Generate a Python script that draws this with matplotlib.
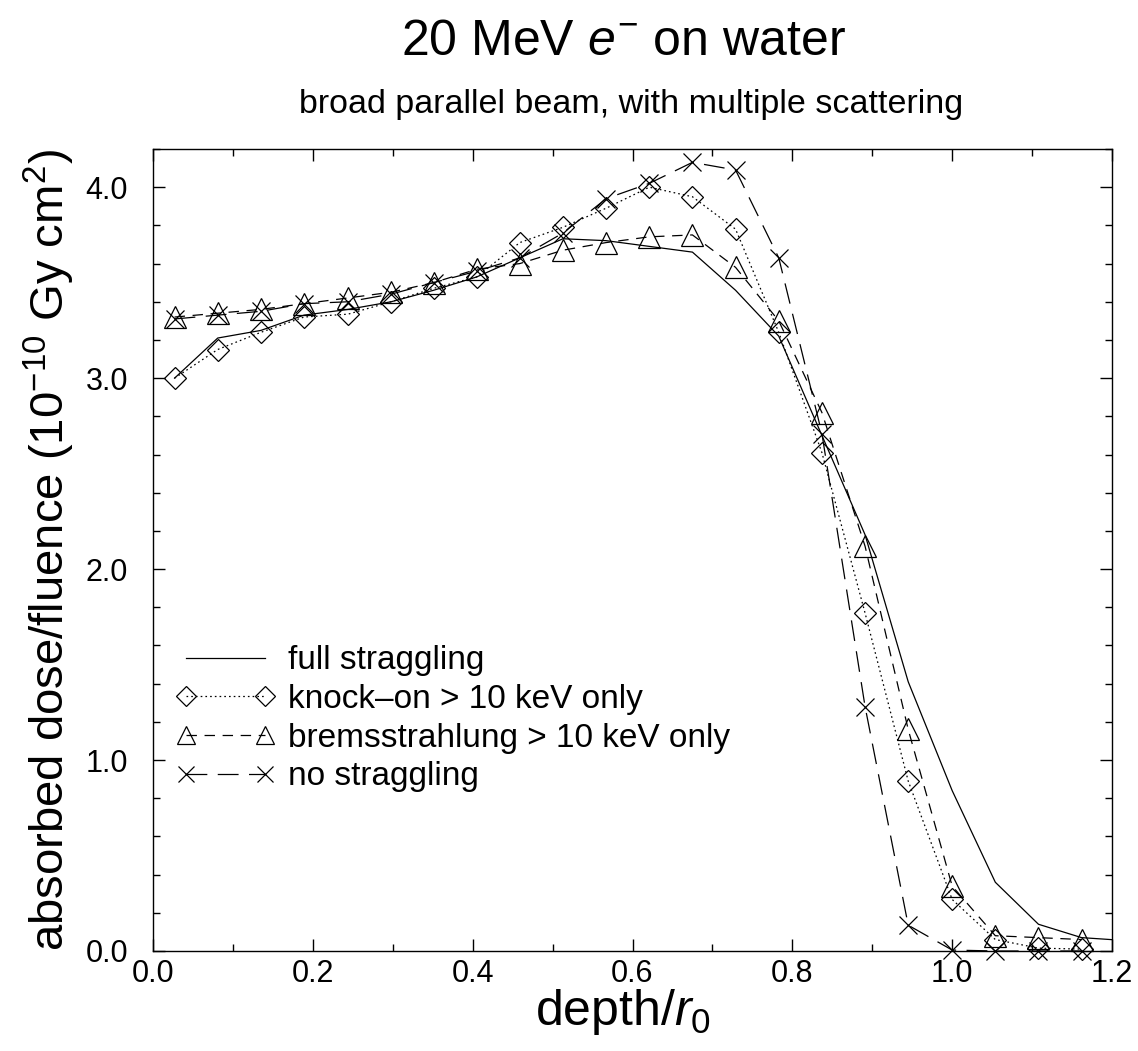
import matplotlib
matplotlib.use("Agg")
import matplotlib.pyplot as plt
from matplotlib.ticker import MultipleLocator, FormatStrFormatter

plt.rcParams['font.family'] = ['Liberation Sans', 'DejaVu Sans']
plt.rcParams['mathtext.fontset'] = 'custom'
plt.rcParams['mathtext.rm'] = 'Liberation Sans'
plt.rcParams['mathtext.it'] = 'Liberation Sans:italic'
plt.rcParams['mathtext.bf'] = 'Liberation Sans:bold'
plt.rcParams['lines.scale_dashes'] = False

# ---- data ----
depth = [0.027, 0.081, 0.135, 0.189, 0.244, 0.298, 0.351, 0.405, 0.459, 0.513,
         0.567, 0.621, 0.675, 0.729, 0.783, 0.837, 0.891, 0.945, 1.000, 1.054,
         1.108, 1.162]
depth_full = depth + [1.216]

full_straggling = [3.00, 3.21, 3.25, 3.33, 3.36, 3.40, 3.46, 3.53, 3.63, 3.73,
                   3.72, 3.69, 3.66, 3.46, 3.22, 2.70, 2.18, 1.41, 0.84, 0.36,
                   0.14, 0.07, 0.055]
knock_on = [3.00, 3.15, 3.24, 3.32, 3.335, 3.40, 3.47, 3.53, 3.71, 3.79,
            3.89, 4.00, 3.95, 3.78, 3.24, 2.61, 1.77, 0.89, 0.27, 0.06,
            0.015, 0.01]
bremsstrahlung = [3.32, 3.34, 3.36, 3.39, 3.42, 3.45, 3.50, 3.57, 3.60, 3.67,
                  3.71, 3.74, 3.75, 3.58, 3.30, 2.82, 2.12, 1.16, 0.34, 0.08,
                  0.07, 0.06]
no_straggling = [3.31, 3.33, 3.35, 3.39, 3.40, 3.44, 3.50, 3.56, 3.63, 3.76,
                 3.94, 4.02, 4.13, 4.09, 3.63, 2.71, 1.28, 0.135, 0.005, 0.0,
                 0.0, 0.0]

labels = ['full straggling', 'knock\u2013on > 10 keV only',
          'bremsstrahlung > 10 keV only', 'no straggling']

x_ticks = [0.0, 0.2, 0.4, 0.6, 0.8, 1.0, 1.2]
y_ticks = [0.0, 1.0, 2.0, 3.0, 4.0]

# ---- figure ----
fig = plt.figure(figsize=(11.38, 10.51), dpi=100)
ax = fig.add_axes([153/1138, 1-951/1051, (1112-153)/1138, (951-149)/1051])

lw = 0.9
ax.plot(depth_full, full_straggling, color='black', lw=lw, linestyle='-',
        label=labels[0], clip_on=True)
ax.plot(depth, knock_on, color='black', lw=lw, linestyle=(0, (1.2, 2.2)),
        marker='D', ms=11.5, mfc='none', mec='black', mew=0.9,
        label=labels[1], clip_on=False)
ax.plot(depth, bremsstrahlung, color='black', lw=lw, linestyle=(0, (7.5, 5.5)),
        marker='^', ms=16, mfc='none', mec='black', mew=0.9,
        label=labels[2], clip_on=False)
ax.plot(depth, no_straggling, color='black', lw=lw, linestyle=(0, (15, 7.5)),
        marker='x', ms=13, mfc='none', mec='black', mew=0.9,
        label=labels[3], clip_on=False)

ax.set_xlim(0.0, 1.2)
ax.set_ylim(0.0, 4.2)
ax.set_xticks(x_ticks)
ax.set_yticks(y_ticks)
ax.xaxis.set_minor_locator(MultipleLocator(0.1))
ax.yaxis.set_minor_locator(MultipleLocator(0.2))
ax.xaxis.set_major_formatter(FormatStrFormatter('%.1f'))
ax.yaxis.set_major_formatter(FormatStrFormatter('%.1f'))

ax.tick_params(which='both', direction='in', top=True, right=True,
               width=1.0, color='black')
ax.tick_params(which='major', length=8.5)
ax.tick_params(which='minor', length=5)
ax.tick_params(axis='x', which='major', labelsize=22, pad=6)
ax.tick_params(axis='y', which='major', labelsize=22, pad=18)
for s in ax.spines.values():
    s.set_linewidth(1.0)

ax.set_xlabel(r'depth/$r_{\mathrm{0}}$', fontsize=36, labelpad=0)
ax.xaxis.set_label_coords(0.49, -0.045)
ax.xaxis.label.set_va('top')
ax.set_ylabel(r'absorbed dose/fluence (10$^{-10}$ Gy cm$^{2}$)', fontsize=34,
              labelpad=6)

fig.text(623/1138, 1-42/1051, r'20 MeV $e^{-}$ on water', fontsize=36,
         ha='center', va='center')
fig.text(631/1138, 1-104/1051, 'broad parallel beam, with multiple scattering',
         fontsize=24.5, ha='center', va='center')

leg = ax.legend(loc='upper left', bbox_to_anchor=(0.024, 0.381),
                frameon=False, fontsize=24, numpoints=2, markerscale=0.85,
                handlelength=2.98, handletextpad=0.39, labelspacing=0.23,
                borderpad=0, borderaxespad=0)

fig.savefig('out.png', dpi=100)
